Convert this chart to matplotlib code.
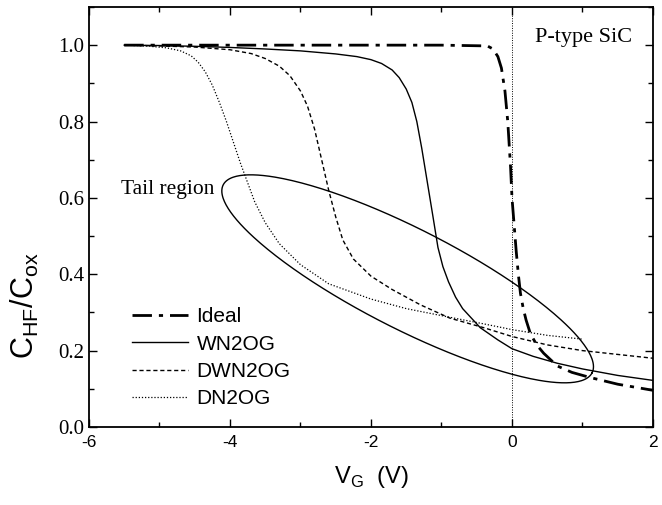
import numpy as np
import matplotlib
matplotlib.use("Agg")
import matplotlib.pyplot as plt
from matplotlib.ticker import MultipleLocator

# ---- data ----
ideal_v = [-5.5, -3, -1, -0.35, -0.27, -0.2, -0.15, -0.1, -0.06, -0.02, 0.0, 0.03, 0.06, 0.09, 0.12,
           0.16, 0.2, 0.26, 0.35, 0.45, 0.64, 0.85, 1.1, 1.5, 2.0]
ideal_c = [1.0, 1.0, 1.0, 0.998, 0.99, 0.97, 0.94, 0.88, 0.80, 0.68, 0.60, 0.53, 0.46, 0.40, 0.35,
           0.31, 0.28, 0.245, 0.215, 0.193, 0.16, 0.143, 0.13, 0.112, 0.096]

wn_v = [-5.5, -5, -4.5, -4, -3.5, -3, -2.5, -2.2, -2.0, -1.85, -1.7, -1.6, -1.5, -1.42, -1.35, -1.28,
        -1.2, -1.12, -1.05, -0.98, -0.9, -0.8, -0.7, -0.55, -0.45, -0.2, 0.0, 0.3, 0.64, 1.0, 1.5, 2.0]
wn_c = [1.0, 0.999, 0.997, 0.994, 0.99, 0.985, 0.977, 0.97, 0.962, 0.952, 0.935, 0.915, 0.885, 0.85,
        0.8, 0.73, 0.64, 0.55, 0.47, 0.42, 0.38, 0.34, 0.31, 0.28, 0.26, 0.228, 0.205, 0.185, 0.167,
        0.152, 0.135, 0.122]

dwn_v = [-5.5, -5, -4.5, -4, -3.7, -3.5, -3.3, -3.15, -3.0, -2.9, -2.8, -2.7, -2.6, -2.5, -2.4,
         -2.25, -2.0, -1.7, -1.3, -0.88, -0.4, 0.0, 0.5, 1.0, 1.5, 2.0]
dwn_c = [1.0, 0.998, 0.995, 0.988, 0.978, 0.965, 0.945, 0.92, 0.88, 0.84, 0.78, 0.70, 0.62, 0.55,
         0.49, 0.44, 0.395, 0.36, 0.32, 0.285, 0.26, 0.237, 0.215, 0.2, 0.19, 0.18]

dn_v = [-5.5, -5.2, -4.9, -4.7, -4.55, -4.45, -4.35, -4.25, -4.15, -4.05, -3.95, -3.85, -3.75,
        -3.65, -3.5, -3.3, -3.0, -2.6, -2.0, -1.5, -0.9, -0.4, 0.0, 0.5, 1.0]
dn_c = [1.0, 0.998, 0.993, 0.985, 0.972, 0.955, 0.93, 0.895, 0.85, 0.80, 0.745, 0.69, 0.64,
        0.59, 0.535, 0.48, 0.425, 0.375, 0.335, 0.31, 0.288, 0.27, 0.255, 0.24, 0.23]

labels = ["Ideal", "WN2OG", "DWN2OG", "DN2OG"]
x_ticks = [-6, -4, -2, 0, 2]
y_ticks = [0.0, 0.2, 0.4, 0.6, 0.8, 1.0]

# tail-region ellipse (center in data units, semi-axes in pixels, angle deg)
ell_center = (-1.48, 0.388)
ell_a, ell_b, ell_angle = 207, 50, 27

fig = plt.figure(figsize=(6.62, 5.05), dpi=100)
ax = fig.add_axes([0.1344, 0.1545, 0.852, 0.8317])

serif = "Liberation Serif"
sans = "Liberation Sans"

ax.axvline(0, color="black", lw=0.7, ls=(0, (1, 1.5)), zorder=1)
ax.plot(ideal_v, ideal_c, color="black", lw=2.0, ls=(0, (7, 2.5, 1.5, 2.5)), label=labels[0])
ax.plot(wn_v, wn_c, color="black", lw=1.0, ls="-", label=labels[1])
ax.plot(dwn_v, dwn_c, color="black", lw=1.0, ls=(0, (3, 2)), label=labels[2])
ax.plot(dn_v, dn_c, color="black", lw=0.9, ls=(0, (1, 1.5)), label=labels[3])

ax.set_xlim(-6, 2)
ax.set_ylim(0, 1.1)

# ellipse drawn in pixel-scaled space
fig.canvas.draw()
p0 = ax.transData.transform((0, 0))
p1 = ax.transData.transform((1, 1))
sx, sy = p1[0] - p0[0], p1[1] - p0[1]
t = np.linspace(0, 2 * np.pi, 400)
th = np.deg2rad(-ell_angle)
ex = ell_a * np.cos(t) * np.cos(th) - ell_b * np.sin(t) * np.sin(th)
ey = ell_a * np.cos(t) * np.sin(th) + ell_b * np.sin(t) * np.cos(th)
ax.plot(ell_center[0] + ex / sx, ell_center[1] + ey / sy, color="black", lw=1.0)

ax.text(-5.55, 0.622, "Tail region", family=serif, fontsize=15.5, va="center", ha="left")
ax.text(0.33, 1.02, "P-type SiC", family=serif, fontsize=16, va="center", ha="left")

ax.set_xticks(x_ticks)
ax.set_xticklabels([f"{v:g}" for v in x_ticks], family=sans, fontsize=12.5)
ax.set_yticks(y_ticks)
ax.set_yticklabels([f"{v:.1f}" for v in y_ticks], family=serif, fontsize=15)
ax.xaxis.set_minor_locator(MultipleLocator(1))
ax.yaxis.set_minor_locator(MultipleLocator(0.1))
ax.tick_params(which="both", direction="in", top=True, right=True, width=1.0)
ax.tick_params(which="major", length=6)
ax.tick_params(which="minor", length=3.5)
ax.tick_params(axis="x", pad=6)
for s in ax.spines.values():
    s.set_linewidth(1.3)

ax.set_xlabel(r"V$_{\mathregular{G}}$  (V)", family=sans, fontsize=17, labelpad=10)
ax.set_ylabel(r"C$_{\mathregular{HF}}$/C$_{\mathregular{ox}}$", family=sans, fontsize=22)
ax.yaxis.set_label_coords(-0.085, 0.29)

leg = ax.legend(loc="center left", bbox_to_anchor=(0.076, 0.165), frameon=False,
                borderpad=0, borderaxespad=0, handlelength=2.7, handletextpad=0.4,
                labelspacing=0.4, prop={"family": sans, "size": 15})

fig.savefig("out.png", dpi=100)
